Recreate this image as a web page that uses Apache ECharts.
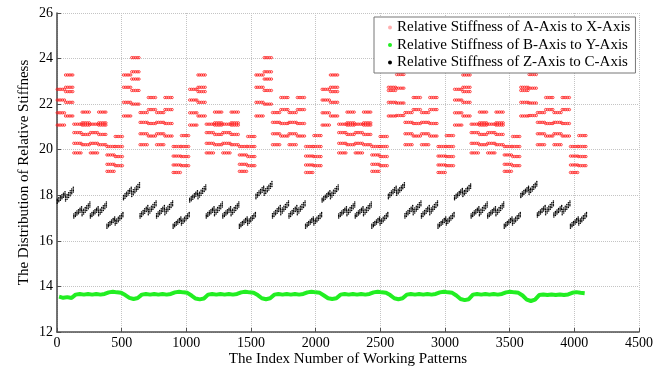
<!DOCTYPE html>
<html><head><meta charset="utf-8">
<script src="https://cdn.jsdelivr.net/npm/echarts@6/dist/echarts.min.js"></script>
<style>html,body{margin:0;padding:0;background:#fff}#c{width:666px;height:376px}</style>
</head><body><div id="c"></div>
<script>
// ---- data ----
const seriesNames = ['Relative Stiffness of A-Axis to X-Axis','Relative Stiffness of B-Axis to Y-Axis','Relative Stiffness of Z-Axis to C-Axis'];
const xTicks = [0,500,1000,1500,2000,2500,3000,3500,4000,4500];
const yTicks = [12,14,16,18,20,22,24,26];
const periodLength = 512;   // patterns per repeat group
const blockLength = 64;     // patterns per sub-block

// red: value levels seen in each of the 8 sub-blocks of a group
const redP0 = [[22.65,22.18,21.62,21.08],[23.28,22.74,22.55,22.08,21.48],[21.12,20.75,20.28,19.86],[21.65,21.18,21.08,20.67,20.22],[21.12,20.75,20.28,19.86],[21.65,21.18,21.08,20.67,20.22],[20.14,19.77,19.36,19.05],[20.58,20.14,19.70,19.30]];
const redP1 = [[23.28,22.74,22.08,21.48],[24.04,23.42,23.10,22.60,22.00],[21.63,21.20,20.70,20.22],[22.29,21.76,21.15,20.60],[21.63,21.20,20.70,20.22],[22.29,21.76,21.15,20.60],[20.14,19.72,19.33,19.00],[20.62,20.14,19.70,19.30]];
const redP2 = [[22.65,22.18,21.62,21.08],[23.28,22.74,22.55,22.08,21.48],[21.12,20.75,20.28,19.86],[21.65,21.18,21.08,20.67,20.22],[21.12,20.75,20.28,19.86],[21.65,21.18,21.08,20.67,20.22],[20.14,19.77,19.36,19.05],[20.58,20.14,19.70,19.30]];
const redP3 = [[23.28,22.74,22.08,21.48],[24.04,23.42,23.10,22.60,22.00],[21.63,21.20,20.70,20.22],[22.29,21.76,21.15,20.60],[21.63,21.20,20.70,20.22],[22.29,21.76,21.15,20.60],[20.14,19.72,19.33,19.00],[20.62,20.14,19.70,19.30]];
const redP4 = [[22.65,22.18,21.62,21.08],[23.28,22.74,22.55,22.08,21.48],[21.12,20.75,20.28,19.86],[21.65,21.18,21.08,20.67,20.22],[21.12,20.75,20.28,19.86],[21.65,21.18,21.08,20.67,20.22],[20.14,19.77,19.36,19.05],[20.58,20.14,19.70,19.30]];
const redP5 = [[22.74,22.60,22.08,21.48],[23.42,23.30,22.70,22.05,21.50],[21.63,21.20,20.70,20.22],[22.29,21.76,21.15,20.60],[21.63,21.20,20.70,20.22],[22.29,21.76,21.15,20.60],[20.14,19.72,19.33,19.00],[20.62,20.14,19.70,19.30]];
const redP6 = [[22.65,22.18,21.62,21.08],[23.28,22.74,22.55,22.08,21.48],[21.12,20.75,20.28,19.86],[21.65,21.18,21.08,20.67,20.22],[21.12,20.75,20.28,19.86],[21.65,21.18,21.08,20.67,20.22],[20.14,19.77,19.36,19.05],[20.58,20.14,19.70,19.30]];
const redP7 = [[22.74,22.60,22.08,21.48],[23.42,23.30,22.70,22.05,21.50],[21.63,21.20,20.70,20.22],[22.29,21.76,21.15,20.60],[21.63,21.20,20.70,20.22],[22.29,21.76,21.15,20.60],[20.14,19.72,19.33,19.00],[20.62,20.14,19.70,19.30]];

// black: [lowest, highest] value of the slanted cluster in each sub-block
const blackP0 = [[17.65,18.15],[17.75,18.35],[17.00,17.50],[17.10,17.70],[17.00,17.50],[17.10,17.70],[16.55,17.05],[16.70,17.25]];
const blackP1 = [[17.80,18.35],[17.95,18.55],[17.00,17.55],[17.15,17.75],[17.00,17.55],[17.15,17.75],[16.55,17.05],[16.70,17.25]];
const blackP2 = [[17.70,18.20],[17.85,18.45],[17.00,17.50],[17.10,17.70],[17.00,17.50],[17.10,17.70],[16.55,17.05],[16.70,17.25]];
const blackP3 = [[17.85,18.40],[18.00,18.60],[17.00,17.55],[17.15,17.75],[17.00,17.55],[17.15,17.75],[16.55,17.05],[16.70,17.25]];
const blackP4 = [[17.70,18.20],[17.85,18.45],[17.00,17.50],[17.10,17.70],[17.00,17.50],[17.10,17.70],[16.55,17.05],[16.70,17.25]];
const blackP5 = [[17.85,18.40],[18.00,18.55],[17.00,17.55],[17.15,17.75],[17.00,17.55],[17.15,17.75],[16.55,17.05],[16.70,17.25]];
const blackP6 = [[17.80,18.30],[17.95,18.50],[17.00,17.50],[17.10,17.70],[17.00,17.50],[17.10,17.70],[16.55,17.05],[16.70,17.25]];
const blackP7 = [[17.90,18.40],[18.05,18.60],[17.05,17.55],[17.15,17.75],[17.05,17.55],[17.15,17.75],[16.55,17.05],[16.70,17.25]];

// green: value every 32 patterns within each group
const greenP0 = [13.55,13.50,13.53,13.49,13.64,13.67,13.64,13.67,13.64,13.67,13.64,13.67,13.74,13.77,13.74,13.72];
const greenP1 = [13.62,13.50,13.45,13.49,13.64,13.67,13.64,13.67,13.64,13.67,13.64,13.67,13.74,13.77,13.74,13.72];
const greenP2 = [13.60,13.47,13.43,13.47,13.64,13.67,13.64,13.67,13.64,13.67,13.64,13.67,13.74,13.77,13.74,13.72];
const greenP3 = [13.62,13.48,13.44,13.48,13.64,13.67,13.64,13.67,13.64,13.67,13.64,13.67,13.74,13.77,13.74,13.72];
const greenP4 = [13.60,13.48,13.45,13.48,13.64,13.67,13.64,13.67,13.64,13.67,13.64,13.67,13.74,13.77,13.74,13.72];
const greenP5 = [13.62,13.48,13.44,13.48,13.64,13.67,13.64,13.67,13.64,13.67,13.64,13.67,13.74,13.77,13.74,13.72];
const greenP6 = [13.60,13.45,13.40,13.44,13.64,13.67,13.64,13.67,13.64,13.67,13.64,13.67,13.74,13.77,13.74,13.72];
const greenP7 = [13.60,13.42,13.36,13.42,13.62,13.65,13.62,13.65,13.62,13.65,13.62,13.65,13.72,13.75,13.72,13.70];

// ---- build library data ----
const redGroups = [redP0,redP1,redP2,redP3,redP4,redP5,redP6,redP7];
const blackGroups = [blackP0,blackP1,blackP2,blackP3,blackP4,blackP5,blackP6,blackP7];
const greenGroups = [greenP0,greenP1,greenP2,greenP3,greenP4,greenP5,greenP6,greenP7];

const redData = [];
redGroups.forEach((g, p) => g.forEach((levels, s) => levels.forEach(v => {
  const x0 = p*periodLength + s*blockLength;
  redData.push([x0 + 2, x0 + 58, v]);
})));
const blackData = [];
blackGroups.forEach((g, p) => g.forEach((r, s) => {
  const x0 = p*periodLength + s*blockLength;
  blackData.push([x0 + 2, x0 + 62, r[0], r[1]]);
}));
const greenData = [];
greenGroups.forEach((g, p) => g.forEach((v, k) => {
  greenData.push([p*periodLength + k*32 + 16, v]);
}));

function renderRed(params, api) {
  const a = api.coord([api.value(0), api.value(2)]);
  const b = api.coord([api.value(1), api.value(2)]);
  const n = Math.max(2, Math.round((b[0]-a[0]) / 2.0) + 1);
  const children = [];
  for (let i = 0; i < n; i++) {
    children.push({type:'circle', shape:{cx: a[0] + (b[0]-a[0])*i/(n-1), cy: a[1], r: 1.2},
      style:{fill:'none', stroke:'#ff1a1a', lineWidth:0.8}});
  }
  return {type:'group', children};
}
function renderBlack(params, api) {
  const bl = api.coord([api.value(0), api.value(2)]);
  const tr = api.coord([api.value(1), api.value(3)]);
  const W = tr[0]-bl[0], H = bl[1]-tr[1];
  const rise = 0.65*H, rows = 4, cols = 6;
  const children = [];
  for (let r = 0; r < rows; r++) {
    const yo = r*(H-rise)/(rows-1);
    for (let c = 0; c < cols; c++) {
      const t = c/(cols-1);
      children.push({type:'circle', shape:{cx: bl[0] + W*t, cy: bl[1] - yo - rise*t, r: 0.75},
        style:{fill:'#000'}});
    }
  }
  return {type:'group', children};
}

const serif = 'Liberation Serif, Times New Roman, serif';
const chart = echarts.init(document.getElementById('c'), null, {renderer:'canvas'});
chart.setOption({
  animation:false,
  backgroundColor:'#fff',
  grid:{left:57, right:27, top:13, bottom:44, containLabel:false},
  legend:{
    orient:'vertical', left:374, top:17,
    padding:[2,5,2,14], itemGap:0.5, itemWidth:4, itemHeight:4,
    borderColor:'#777', borderWidth:1, backgroundColor:'#fff',
    textStyle:{fontFamily:serif, fontSize:15, color:'#000', lineHeight:17},
    data:[
      {name:seriesNames[0], icon:'circle', itemStyle:{color:'#ffb0b0'}},
      {name:seriesNames[1], icon:'circle', itemStyle:{color:'#22ee22'}},
      {name:seriesNames[2], icon:'circle', itemStyle:{color:'#000'}}
    ]
  },
  xAxis:{
    type:'value', min:xTicks[0], max:xTicks[xTicks.length-1], interval:500,
    name:'The Index Number of Working Patterns', nameLocation:'middle', nameGap:20, nameMoveOverlap:false,
    nameTextStyle:{fontFamily:serif, fontSize:15, color:'#000'},
    axisLine:{show:true, lineStyle:{color:'#505050', width:1.6}},
    axisTick:{show:true, inside:true, length:4, lineStyle:{color:'#505050'}},
    axisLabel:{fontFamily:serif, fontSize:14, color:'#000', margin:4, formatter: v => String(v)},
    splitLine:{show:true, lineStyle:{color:'#c4c4c4', type:'dotted', width:1}}
  },
  yAxis:{
    type:'value', min:yTicks[0], max:yTicks[yTicks.length-1], interval:2,
    name:'The Distribution of Relative Stiffness', nameLocation:'middle', nameGap:25, nameMoveOverlap:false,
    nameTextStyle:{fontFamily:serif, fontSize:15, color:'#000'},
    axisLine:{show:true, lineStyle:{color:'#505050', width:1.6}},
    axisTick:{show:true, inside:true, length:4, lineStyle:{color:'#505050'}},
    axisLabel:{fontFamily:serif, fontSize:14, color:'#000', margin:4, formatter: v => String(v)},
    splitLine:{show:true, lineStyle:{color:'#c4c4c4', type:'dotted', width:1}}
  },
  series:[
    {name:seriesNames[0], type:'custom', renderItem:renderRed, data:redData, itemStyle:{color:'#ff1a1a'},
      encode:{x:[0,1], y:2}, z:3},
    {name:seriesNames[1], type:'line', data:greenData, showSymbol:false, smooth:false,
      lineStyle:{color:'#22ee22', width:4}, itemStyle:{color:'#22ee22'}, z:3},
    {name:seriesNames[2], type:'custom', renderItem:renderBlack, data:blackData, itemStyle:{color:'#000'},
      encode:{x:[0,1], y:[2,3]}, z:3}
  ]
});
</script>
</body></html>
